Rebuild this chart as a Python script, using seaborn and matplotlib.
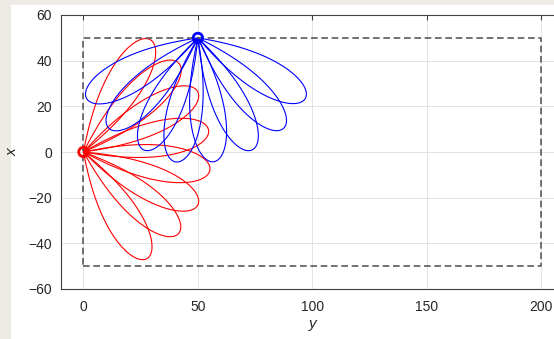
import numpy as np
import pandas as pd
import matplotlib
matplotlib.use("Agg")
import matplotlib.pyplot as plt
import seaborn as sns

# ---- data (plot coords: horizontal = y, vertical = x) ----
red_center = [0.0, 0.0]
red_tip_angle = [59.2, 43.1, 27.9, 10.0, -8.1, -24.8, -40.6, -59.2]      # degrees
red_tip_length = [57.2, 57.0, 56.5, 55.5, 55.8, 55.1, 54.8, 54.3]

blue_center = [50.0, 50.0]
blue_tip_angle = [-151.4, -134.5, -115.8, -100.2, -82.8, -64.2, -46.6, -29.5]
blue_tip_length = [55.4, 55.5, 54.5, 55.2, 54.7, 54.5, 54.5, 53.9]

box_y = [0, 200, 200, 0, 0]
box_x = [-50, -50, 50, 50, -50]

xticks = [0, 50, 100, 150, 200]
yticks = [-60, -40, -20, 0, 20, 40, 60]

# ---- petal outline (shape only) ----
PETAL_K = 4.6
PETAL_P = 0.7


def petal(cx, cy, ang, length, group, idx):
    phi = np.linspace(-np.pi / (2 * PETAL_K), np.pi / (2 * PETAL_K), 300)
    r = length * np.clip(np.cos(PETAL_K * phi), 0, None) ** PETAL_P
    a = np.deg2rad(ang)
    return pd.DataFrame({
        "h": cx + r * np.cos(phi + a),
        "v": cy + r * np.sin(phi + a),
        "group": group,
        "unit": f"{group}{idx}",
        "order": np.arange(len(phi)),
    })


frames = []
for i, (a, l) in enumerate(zip(red_tip_angle, red_tip_length)):
    frames.append(petal(red_center[0], red_center[1], a, l, "red", i))
for i, (a, l) in enumerate(zip(blue_tip_angle, blue_tip_length)):
    frames.append(petal(blue_center[0], blue_center[1], a, l, "blue", i))
df = pd.concat(frames, ignore_index=True)

sns.set_theme(style="whitegrid")
plt.rcParams["font.family"] = ["Liberation Sans", "DejaVu Sans"]
plt.rcParams["font.size"] = 10

W, H = 554, 339
fig = plt.figure(figsize=(W / 100, H / 100), dpi=100)
fig.patch.set_facecolor("white")
# beige window border (left and top strips)
fig.patches.append(plt.Rectangle((0, 0), 11 / W, 1, transform=fig.transFigure,
                                 facecolor="#EEEBE6", edgecolor="none", zorder=-10))
fig.patches.append(plt.Rectangle((0, 1 - 5 / H), 1, 5 / H, transform=fig.transFigure,
                                 facecolor="#EEEBE6", edgecolor="none", zorder=-10))

x0, x1 = 60.5, 564.3
y_top, y_bot = 15, 289
ax = fig.add_axes([x0 / W, (H - y_bot) / H, (x1 - x0) / W, (y_bot - y_top) / H])
ax.set_facecolor("white")

sns.lineplot(data=df, x="h", y="v", hue="group", units="unit", estimator=None,
             sort=False, palette={"red": "#FF0000", "blue": "#0000FF"},
             linewidth=0.8, legend=False, ax=ax)

ax.plot(box_y, box_x, color="#5A5A5A", linewidth=1.2, linestyle="--",
        dashes=(4, 2.2), zorder=3)

sns.scatterplot(x=[red_center[0]], y=[red_center[1]], marker="o", s=45,
                facecolors="none", edgecolor="#FF0000", linewidth=2, ax=ax, zorder=5)
sns.scatterplot(x=[blue_center[0]], y=[blue_center[1]], marker="o", s=45,
                facecolors="none", edgecolor="#0000FF", linewidth=2, ax=ax, zorder=5)

ax.set_xlim(-10, 210)
ax.set_ylim(-60, 60)
ax.set_xticks(xticks)
ax.set_yticks(yticks)
ax.grid(True, color="#E3E3E3", linewidth=0.7)
for s in ax.spines.values():
    s.set_color("#404040")
    s.set_linewidth(0.8)
ax.tick_params(direction="in", length=3.5, width=0.8, color="#404040",
               top=True, right=True, labelsize=10, labelcolor="#262626", pad=6)
ax.tick_params(axis="x", pad=8)
ax.set_xlabel("y", style="italic", fontsize=11, color="#262626", labelpad=2)
ax.set_ylabel("x", style="italic", fontsize=11, color="#262626", labelpad=6)
ax.set_axisbelow(True)

fig.savefig("out.png", dpi=100)
